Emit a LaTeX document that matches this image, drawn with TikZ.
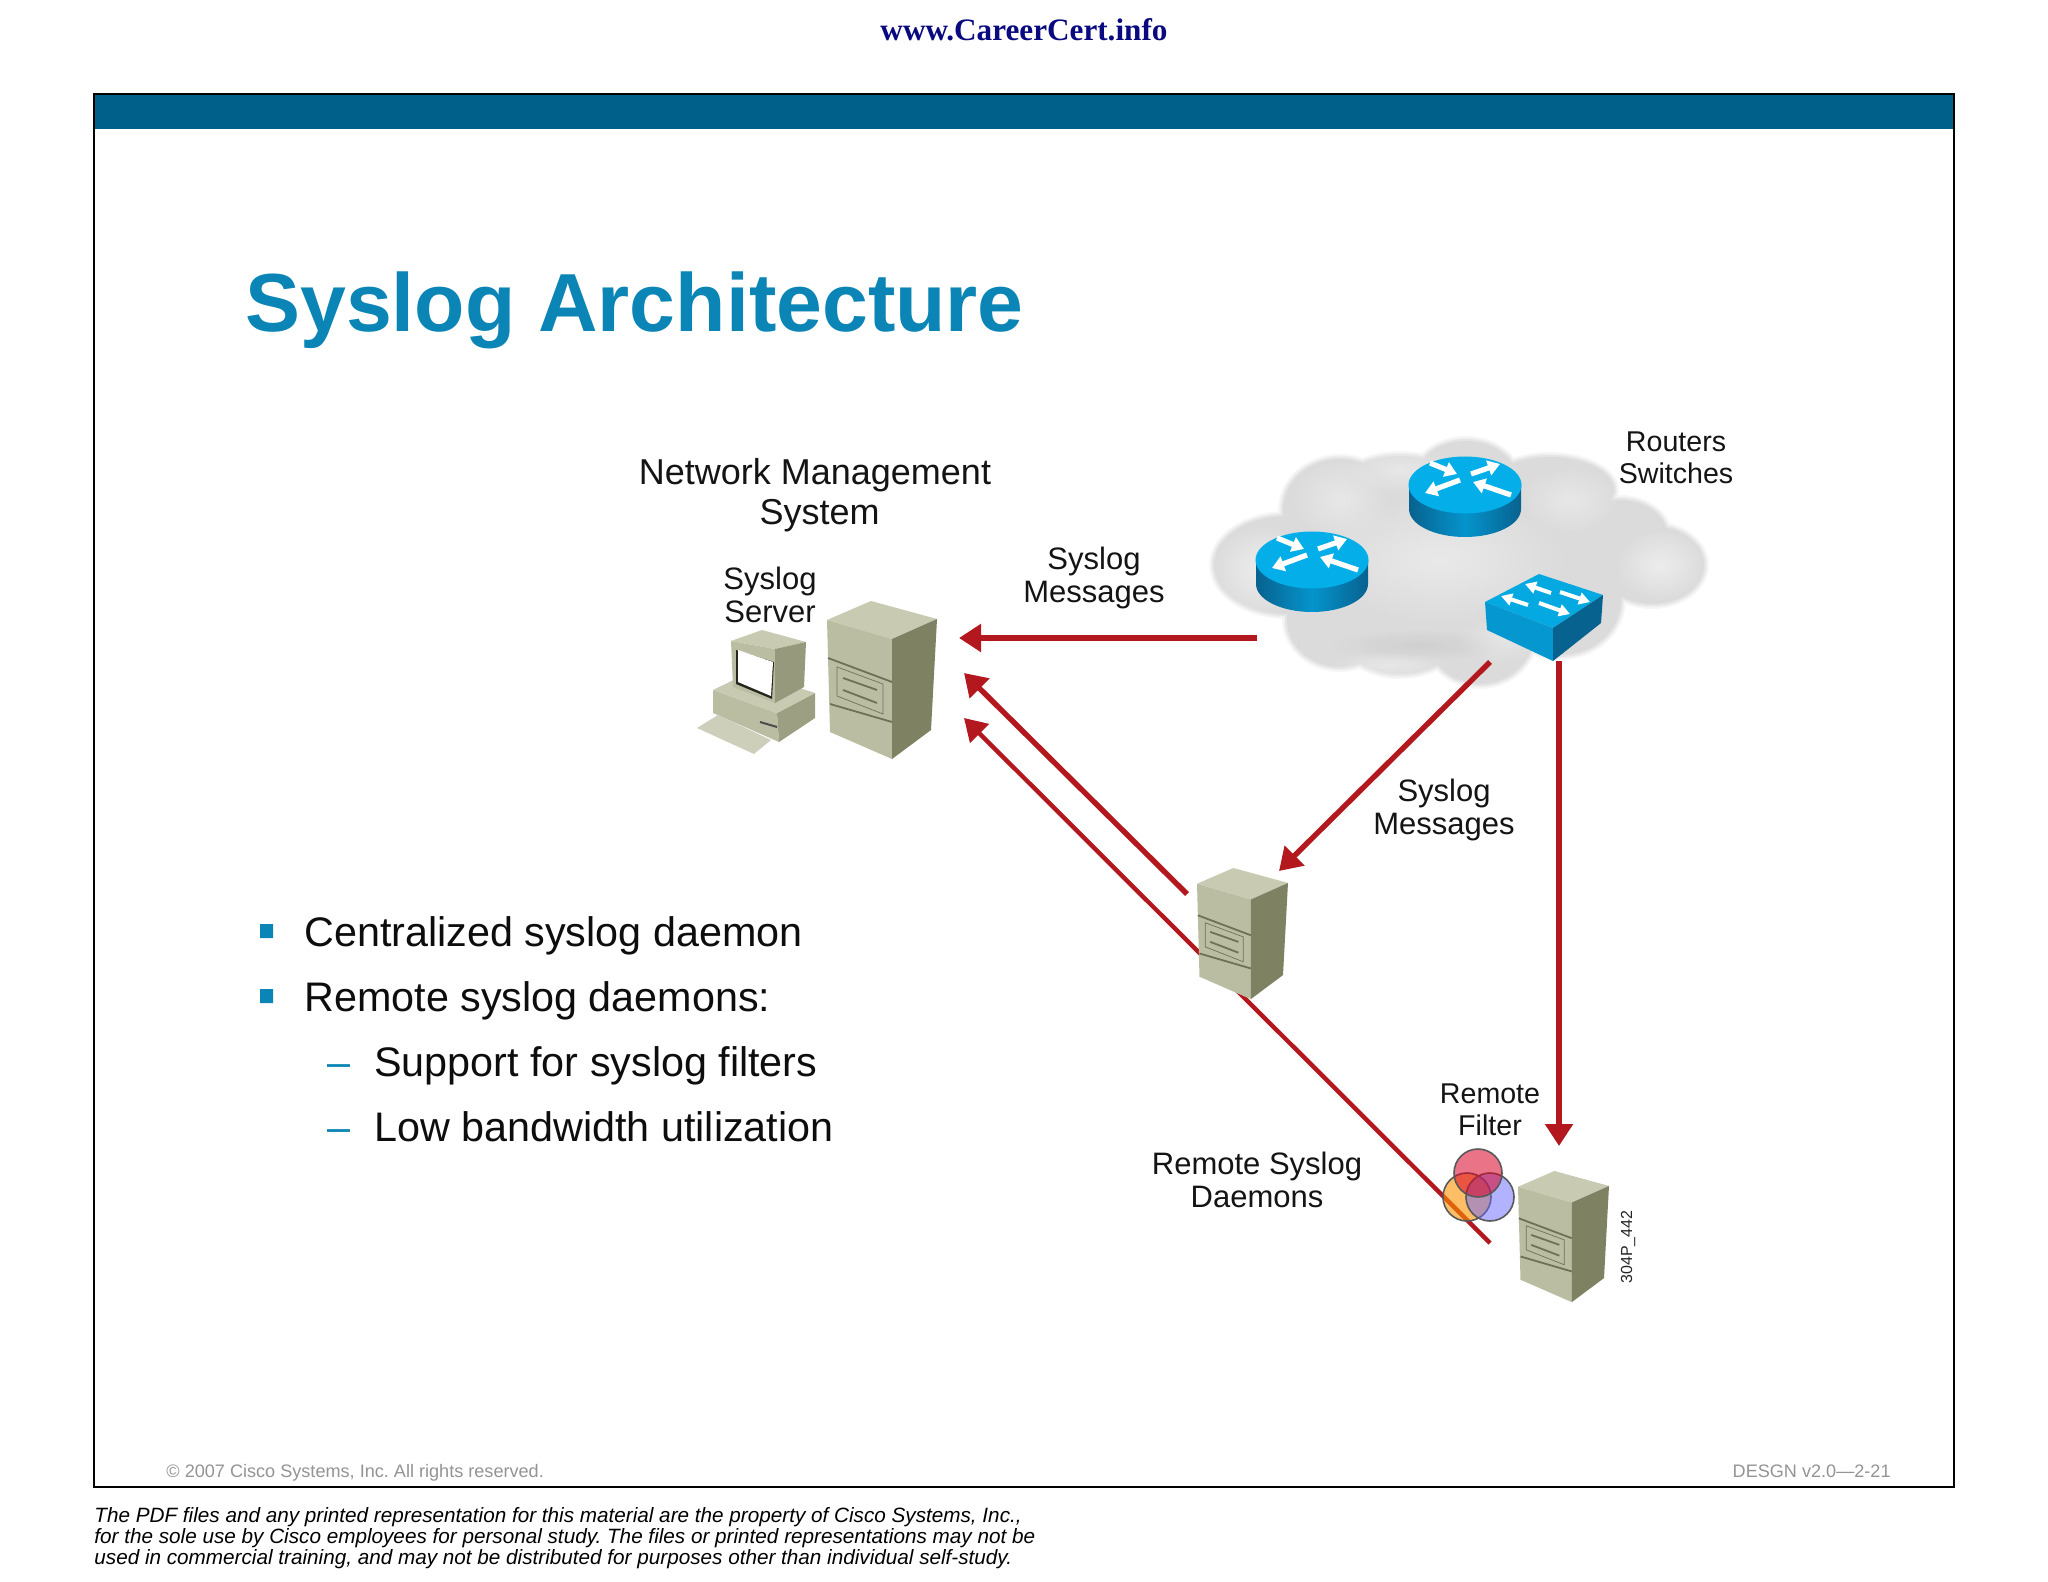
\documentclass[tikz,border=0pt]{standalone}
\usepackage{fontspec}
\setmainfont{Liberation Sans}
\newfontfamily\wmfont{Liberation Serif}
\usetikzlibrary{arrows.meta,fadings}
\definecolor{hdr}{HTML}{00608A}
\definecolor{ttl}{HTML}{0A85B5}
\definecolor{arrowred}{HTML}{B3181E}
\definecolor{wm}{HTML}{0A0A80}
\definecolor{srvtop}{HTML}{C8CAB2}
\definecolor{srvfront}{HTML}{BBBDA2}
\definecolor{srvside}{HTML}{7E8162}
\definecolor{srvline}{HTML}{6E7156}
\definecolor{rtop}{HTML}{04AEE8}
\definecolor{rdark}{HTML}{07628F}
\definecolor{rmid}{HTML}{0594CC}
\tikzfading[name=softc, inner color=transparent!0, outer color=transparent!100]
\tikzset{
 x=0.5pt,y=-0.5pt,
 lbl/.style={font=\fontsize{15.5}{16.5}\selectfont,align=center,text=black!92,inner sep=0pt},
 lblsm/.style={font=\fontsize{14.3}{16}\selectfont,align=center,text=black!92,inner sep=0pt},
 bul/.style={font=\fontsize{20.65}{24}\selectfont,anchor=base west,inner sep=0pt,text=black!95},
 dashmark/.style={font=\fontsize{20.65}{24}\selectfont,anchor=base west,inner sep=0pt,text=ttl},
 foot/.style={font=\fontsize{9.05}{11}\selectfont,text=black!42,inner sep=0pt},
 legal/.style={font=\fontsize{10.35}{10.5}\selectfont\itshape,anchor=base west,inner sep=0pt},
 msg/.style={draw=arrowred,line width=2.7pt,-{Triangle[length=11pt,width=13.5pt]}},
 msgthin/.style={draw=arrowred,line width=2.2pt,-{Triangle[length=11pt,width=13pt]}},
 warr/.style={draw=white,line width=2.6pt,-{Triangle[length=6pt,width=7.5pt]}},
 warrs/.style={draw=white,line width=2pt,-{Triangle[length=5.5pt,width=6pt]}},
 srv/.pic={
  \fill[srvtop] (44,0)--(0,19)--(65,38)--(110,18)--cycle;
  \fill[srvfront] (0,19)--(65,38)--(65,158)--(3,131)--cycle;
  \fill[srvside] (65,38)--(110,18)--(104,129)--(65,158)--cycle;
  \draw[srvline,line width=.9pt] (1,57)--(65,81) (3,103)--(65,121);
  \draw[srvline,line width=.35pt] (10,66)--(56,83)--(56,113)--(10,95)--cycle;
  \draw[srvline,line width=.9pt] (16,77)--(50,89) (16,89)--(50,102);
 },
 rtr/.pic={
  \shade[left color=rdark,right color=rdark,middle color=rmid]
   (-56,0)--(-56,24) arc[start angle=180,end angle=0,x radius=56,y radius=28]--(56,0)--cycle;
  \fill[rtop] (0,0) ellipse[x radius=56.5,y radius=28.5];
  \draw[warr] (-35,-22)--(-8,-11);
  \draw[warr] (6,-11)--(35,-21);
  \draw[warr] (-5,-5)--(-40,8);
  \draw[warr] (46,10)--(8,-3);
 }
}
\begin{document}
\begin{tikzpicture}
\frenchspacing
\useasboundingbox (0,0) rectangle (2048,1582);
\fill[white] (0,0) rectangle (2048,1582);
% frame
\fill[hdr] (94,94) rectangle (1954,129);
\draw[black,line width=1.2pt] (94,94) rectangle (1954,1487);
% texts
\node[font=\wmfont\bfseries\fontsize{15.6}{18}\selectfont,text=wm,inner sep=0pt] (wmark) at (1024,30) {www.CareerCert.info};
\node[font=\bfseries\fontsize{41.2}{48}\selectfont,text=ttl,anchor=base west,inner sep=0pt] (title) at (245,332) {Syslog Architecture};
\fill[ttl] (260,924) rectangle (273,938) (260,989) rectangle (273,1003);
\node[bul] (b1) at (304,946) {Centralized syslog daemon};
\node[bul] (b2) at (304,1011) {Remote syslog daemons:};
\node[dashmark] (d1) at (327,1076) {–};
\node[bul] (b3) at (374,1076) {Support for syslog filters};
\node[dashmark] (d2) at (327,1141) {–};
\node[bul] (b4) at (374,1141) {Low bandwidth utilization};
\node[foot,anchor=base west] (copy) at (166,1477) {© 2007 Cisco Systems, Inc. All rights reserved.};
\node[foot,anchor=base east] (ver) at (1891,1477) {DESGN v2.0—2-21};
\node[legal] (l1) at (94,1522.5) {The PDF files and any printed representation for this material are the property of Cisco Systems, Inc.,};
\node[legal] (l2) at (94,1543) {for the sole use by Cisco employees for personal study. The files or printed representations may not be};
\node[legal] (l3) at (94,1564) {used in commercial training, and may not be distributed for purposes other than individual self-study.};
% cloud
\foreach \c/\w in {black!3/5,black!6/3.5,black!10/2,black!14/0}{
 \foreach \x/\y/\a/\b in {1287/565/76/52,1340/510/60/54,1400/495/68/42,1466/480/54/42,1550/490/67/36,1620/535/50/38,1652/565/55/42,1560/600/64/58,1480/630/58/57,1400/625/68/52,1340/620/56/50,1450/550/150/88}{
  \fill[\c] (\x,\y) ellipse[x radius={\a+\w-3},y radius={\b+\w-3}];
 }
}
\foreach \x/\y/\a/\b/\o in {1260/570/50/46/.5,1660/565/46/36/.5,1440/560/130/65/.4,1340/500/50/42/.35,1570/500/50/34/.35,1400/470/55/24/.35,1390/665/60/14/.35,1500/640/45/24/.3}{
 \fill[white,path fading=softc,opacity=\o] (\x,\y) ellipse[x radius=\a,y radius=\b];
}
\fill[black,path fading=softc,opacity=.05] (1420,645) ellipse[x radius=90,y radius=16];
% routers
\pic at (1465,485) {rtr};
\pic at (1312,560) {rtr};
% switch
\fill[rtop!80!rmid] (1539,574)--(1485,602)--(1553,628)--(1603,595)--cycle;
\fill[rmid!85!rtop] (1485,602)--(1553,628)--(1553,661)--(1487,630)--cycle;
\fill[rdark] (1553,628)--(1603,595)--(1601,623)--(1553,661)--cycle;
\draw[warrs] (1551,593)--(1525,584);
\draw[warrs] (1560,592)--(1590,602);
\draw[warrs] (1528,605)--(1501,596);
\draw[warrs] (1539,603)--(1570,614);
% connector ends
\coordinate (cloudW) at (1257,638);
\coordinate (srvE) at (959,638);
\coordinate (srvSE) at (964,673);
\coordinate (srvSEb) at (964,718);
\coordinate (remA) at (1187,894);
\coordinate (remB) at (1490,1243);
\coordinate (cloudS) at (1490,662);
\coordinate (remAin) at (1279,871);
\coordinate (swS) at (1559,661);
\coordinate (remBin) at (1559,1146);
\draw[msg] (cloudW)--(srvE);
\draw[msg] (remA)--(srvSE);
\draw[msgthin] (remB)--(srvSEb);
\draw[msg] (cloudS)--(remAin);
\draw[msg] (swS)--(remBin);
% computer
\fill[srvfront] (713,690)--(713,713)--(779,742)--(777,713)--cycle;
\fill[srvside!50!srvfront] (777,713)--(815,693)--(815,718)--(779,742)--cycle;
\fill[srvtop] (713,690)--(777,713)--(815,693)--(750,672)--cycle;
\fill[srvtop!90!white] (697,728)--(718,715)--(771,740)--(754,754)--cycle;
\draw[black!70,line width=1pt] (760,722)--(777,727);
\fill[srvtop] (762,630)--(731,641)--(775,649)--(806,642)--cycle;
\fill[srvfront] (731,641)--(733,687)--(775,703)--(775,649)--cycle;
\fill[srvside!60!srvfront] (775,649)--(806,642)--(804,687)--(775,703)--cycle;
\fill[black!70!srvside] (736,650)--(736,684)--(772,699)--(774,662)--cycle;
\fill[white] (738,650)--(738,682)--(771,696)--(773,662)--cycle;
% servers
\pic at (827,601) {srv};
\pic[xscale=.827,yscale=.83] at (1197,868) {srv};
\pic[xscale=.827,yscale=.83] at (1518,1171) {srv};
% filter
\begin{scope}[draw=black!65,line width=.8pt]
\filldraw[fill=orange!85!yellow,fill opacity=.6] (1467,1197) circle[radius=24];
\filldraw[fill=blue!60!white,fill opacity=.5] (1490,1197) circle[radius=24];
\filldraw[fill=red!85!blue,fill opacity=.55] (1478,1173) circle[radius=24];
\end{scope}
% labels
\node[lbl,font=\fontsize{18}{20}\selectfont] (nms) at (815,495) {Network Management\\\hspace*{4.5pt}System};
\node[lbl] (ss) at (770,595) {Syslog\\Server};
\node[lbl] (m1) at (1094,578) {Syslog\\Messages};
\node[lbl] (m2) at (1444,810) {Syslog\\Messages};
\node[lblsm] (rs) at (1676,458) {Routers\\Switches};
\node[lblsm] (rf) at (1490,1110) {Remote\\Filter};
\node[lbl] (rd) at (1257,1180) {Remote Syslog\\Daemons};
\node[font=\fontsize{8}{9}\selectfont,rotate=90,text=black!85,inner sep=0pt] (code) at (1628,1247) {304P\_442};
\end{tikzpicture}
\end{document}
